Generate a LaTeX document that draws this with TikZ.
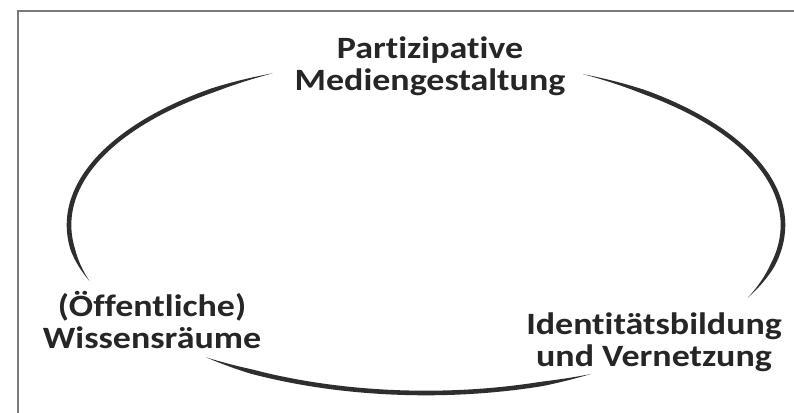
\documentclass[tikz,border=0pt]{standalone}
\usepackage{fontspec}
\newfontfamily\lblfont{Carlito}[FakeStretch=1.16,Ligatures=NoCommon]
\definecolor{arcink}{HTML}{2E2E2E}
\definecolor{txtink}{HTML}{262626}
\definecolor{frameink}{HTML}{7A7A7A}
\newcommand\hwid[2]{2.3*min(1,2.5*sin(180*(\t-(#1))/((#2)-(#1))))}
\newcommand\taperarc[2]{%
  \fill[arcink] plot[domain=#1:#2,samples=90,variable=\t]
    ({426+(357+\hwid{#1}{#2})*cos(\t)},{225-(168+\hwid{#1}{#2})*sin(\t)})
    -- plot[domain=#2:#1,samples=90,variable=\t]
    ({426+(357-\hwid{#1}{#2})*cos(\t)},{225-(168-\hwid{#1}{#2})*sin(\t)}) -- cycle;}
\tikzset{
  lbl/.style={align=center,inner sep=0pt,text=txtink,
    font=\lblfont\bfseries\fontsize{15.5}{15.8}\selectfont},
  framebar/.style={draw=frameink,line width=0.6pt}
}
\begin{document}
\begin{tikzpicture}[x=0.5pt,y=-0.5pt]
\useasboundingbox (0,0) rectangle (794,413);
\fill[white] (0,0) rectangle (794,413);
% partial frame (top and left)
\draw[framebar] (794,11) -- (18,11) -- (18,413);
% cycle arcs
\taperarc{115.4}{199.5}
\taperarc{232}{297.5}
\taperarc{-25.6}{63.9}
% labels
\node[lbl] (top) at (430,66) {Partizipative\\Mediengestaltung};
\node[lbl] (left) at (152,320) {(Öffentliche)\\Wissensräume};
\node[lbl] (right) at (654,342) {Identitätsbildung\\und Vernetzung};
\end{tikzpicture}
\end{document}
